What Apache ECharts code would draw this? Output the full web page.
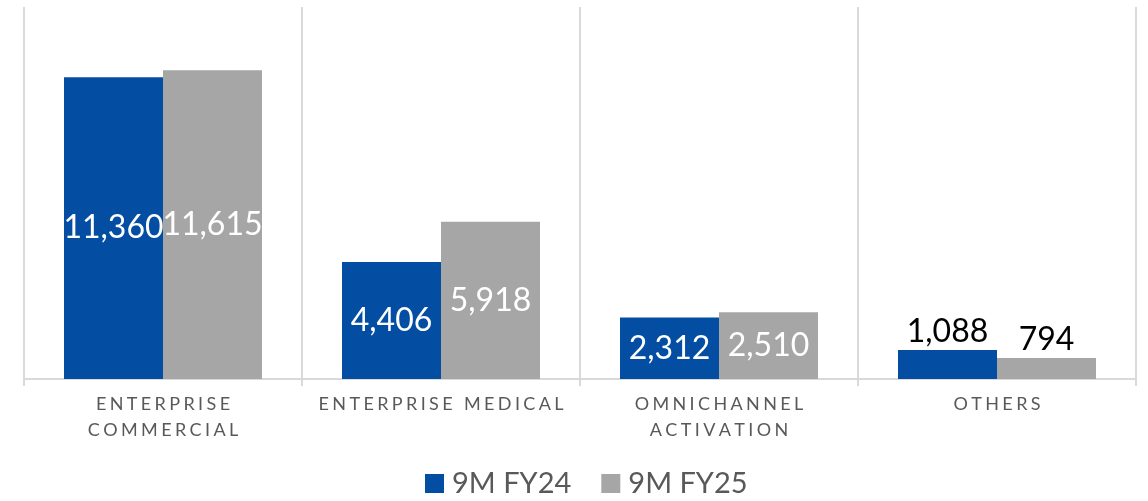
<!DOCTYPE html>
<html>
<head>
<meta charset="utf-8">
<script src="https://cdn.jsdelivr.net/npm/echarts@6/dist/echarts.min.js"></script>
<style>
  html, body { margin: 0; padding: 0; background: #fff; }
  #main { width: 1148px; height: 501px; }
</style>
</head>
<body>
<div id="main"></div>
<script>
  // data
  var categories = ['ENTERPRISE\nCOMMERCIAL', 'ENTERPRISE MEDICAL', 'OMNICHANNEL\nACTIVATION', 'OTHERS'];
  var fy24 = [11360, 4406, 2312, 1088];
  var fy25 = [11615, 5918, 2510, 794];
  var seriesNames = ['9M FY24', '9M FY25'];

  var font = 'Lato, "Open Sans", sans-serif';

  // spread letters a little like the original axis labels
  function spaced(s) {
    return s.split('\n').map(function (line) {
      return line.split('').join('\u2009\u200A');
    }).join('\n');
  }

  function barLabel(val) {
    // small bars get a dark label above, big ones white inside
    return {
      show: true,
      position: val < 2000 ? 'top' : 'inside',
      color: val < 2000 ? '#000' : '#fff',
      fontSize: 32,
      fontFamily: font,
      distance: 2,
      formatter: function (p) { return p.value.toLocaleString('en-US'); }
    };
  }

  function makeSerie(name, data, color) {
    return {
      name: name,
      type: 'bar',
      barWidth: 99,
      barGap: '0%',
      itemStyle: { color: color },
      data: data.map(function (v) {
        return { value: v, label: barLabel(v) };
      })
    };
  }

  var chart = echarts.init(document.getElementById('main'));
  chart.setOption({
    animation: false,
    grid: { left: 24, right: 12, top: 7, bottom: 122 },
    legend: {
      top: 464,
      left: 420,
      itemWidth: 19,
      itemHeight: 19,
      itemGap: 30,
      icon: 'rect',
      textStyle: { fontSize: 29, color: '#595959', fontFamily: font, padding: [0, 0, 0, 3] }
    },
    xAxis: {
      type: 'category',
      data: categories,
      axisLine: { lineStyle: { color: '#D9D9D9', width: 2 } },
      axisTick: { show: true, length: 7, lineStyle: { color: '#D9D9D9', width: 2 } },
      splitLine: { show: true, lineStyle: { color: '#D9D9D9', width: 2 } },
      axisLabel: {
        color: '#595959',
        fontSize: 18,
        fontFamily: font,
        lineHeight: 26,
        margin: 12,
        interval: 0,
        formatter: spaced
      }
    },
    yAxis: {
      type: 'value',
      min: 0,
      max: 14000,
      show: false,
      splitLine: { show: false }
    },
    series: [
      makeSerie(seriesNames[0], fy24, '#034EA2'),
      makeSerie(seriesNames[1], fy25, '#A6A6A6')
    ]
  });
</script>
</body>
</html>
